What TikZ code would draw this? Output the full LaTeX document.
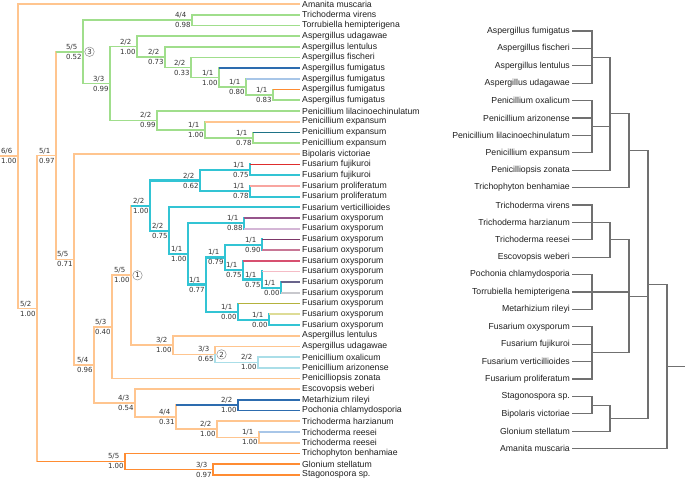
\documentclass[tikz,border=0pt]{standalone}
\usepackage{fontspec}
\setmainfont{Liberation Sans}
\newfontfamily\supportfont{DejaVu Sans}

\begin{document}
\begin{tikzpicture}[x=1pt,y=-1pt,
  taxon/.style={inner sep=2pt,text=black!88,font=\fontsize{8.7}{10}\selectfont},
  support/.style={anchor=east,align=left,inner sep=1.2pt,text=black!80,
    font=\supportfont\fontsize{7}{10}\selectfont},
  cladetag/.style={circle,draw=black!45,line width=0.5pt,inner sep=0pt,
    minimum size=9.5pt,text=black!80,font=\supportfont\fontsize{7}{8}\selectfont},
  br/.style={line width=1.7pt},
  brpeach/.style={br,draw=treepeach},
  brorange/.style={br,draw=treeorange},
  brgreen/.style={br,draw=treegreen},
  brcyan/.style={line width=2.1pt,draw=treecyan},
  brnavy/.style={br,draw=treenavy},
  brsky/.style={br,draw=treesky},
  brice/.style={br,draw=treeice},
  brteal/.style={br,draw=treeteal},
  cladogram/.style={line width=1.15pt,draw=treegray}]
\definecolor{treepeach}{RGB}{255,197,143}
\definecolor{treeorange}{RGB}{255,140,50}
\definecolor{treegreen}{RGB}{160,222,140}
\definecolor{treecyan}{RGB}{50,196,212}
\definecolor{treenavy}{RGB}{45,108,175}
\definecolor{treesky}{RGB}{168,198,232}
\definecolor{treeice}{RGB}{170,222,232}
\definecolor{treeteal}{RGB}{30,115,135}
\definecolor{fusred}{RGB}{222,45,45}
\definecolor{fussalmon}{RGB}{248,165,160}
\definecolor{oxyA}{RGB}{150,85,140}
\definecolor{oxyB}{RGB}{212,182,214}
\definecolor{oxyC}{RGB}{125,55,105}
\definecolor{oxyD}{RGB}{200,120,150}
\definecolor{oxyE}{RGB}{215,80,112}
\definecolor{oxyF}{RGB}{245,188,198}
\definecolor{oxyG}{RGB}{105,100,140}
\definecolor{oxyH}{RGB}{200,200,205}
\definecolor{oxyI}{RGB}{180,178,60}
\definecolor{oxyJ}{RGB}{222,220,150}
\definecolor{treegray}{RGB}{112,112,112}

\newcommand{\treeedge}[4]{
  \draw[#1,line cap=rect] (#3) -- (#3 |- #4);
  \draw[#2] (#3 |- #4) -- (#4);
}
\newcommand{\nodesupport}[3]{
  \node[support] (s#1) at (#1) {#2\\#3};
}

\useasboundingbox (0,0) rectangle (685,481);

% left: gene tree with support values
\begin{scope}[y=-10.7pt,yshift=-4pt]
  \foreach \taxon [count=\i from 0] in {Amanita muscaria,Trichoderma virens,
      Torrubiella hemipterigena,Aspergillus udagawae,Aspergillus lentulus,
      Aspergillus fischeri,Aspergillus fumigatus,Aspergillus fumigatus,
      Aspergillus fumigatus,Aspergillus fumigatus,Penicillium lilacinoechinulatum,
      Penicillium expansum,Penicillium expansum,Penicillium expansum,
      Bipolaris victoriae,Fusarium fujikuroi,Fusarium fujikuroi,
      Fusarium proliferatum,Fusarium proliferatum,Fusarium verticillioides,
      Fusarium oxysporum,Fusarium oxysporum,Fusarium oxysporum,Fusarium oxysporum,
      Fusarium oxysporum,Fusarium oxysporum,Fusarium oxysporum,Fusarium oxysporum,
      Fusarium oxysporum,Fusarium oxysporum,Fusarium oxysporum,
      Aspergillus lentulus,Aspergillus udagawae,Penicillium oxalicum,
      Penicillium arizonense,Penicilliopsis zonata,Escovopsis weberi,
      Metarhizium rileyi,Pochonia chlamydosporia,Trichoderma harzianum,
      Trichoderma reesei,Trichoderma reesei,Trichophyton benhamiae,
      Glonium stellatum,Stagonospora sp.}
    \node[taxon,anchor=west] (l\i) at (300,\i) {\taxon};

  \coordinate (rootin) at (0,14.2297);
  \coordinate (root) at (18,14.2297);
  \coordinate (c52) at (37,28.4594);
  \coordinate (c51) at (56,14.1688);
  \coordinate (c3) at (83,4.4648);
  \coordinate (tri) at (192,1.5);
  \coordinate (eur) at (110,7.4297);
  \coordinate (asp) at (137,3.9844);
  \coordinate (a73) at (165,4.9688);
  \coordinate (a33) at (191,5.9375);
  \coordinate (a100) at (219,6.875);
  \coordinate (a80) at (246,7.75);
  \coordinate (a83) at (273,8.5);
  \coordinate (pen) at (157,10.875);
  \coordinate (pe100) at (205,11.75);
  \coordinate (pe78) at (253,12.5);
  \coordinate (c571) at (74,23.8728);
  \coordinate (c54) at (94,33.7456);
  \coordinate (c53) at (112,30.1787);
  \coordinate (c1) at (131,25.3574);
  \coordinate (fus) at (150,18.8398);
  \coordinate (ffp) at (200,16.5);
  \coordinate (fj) at (250,15.5);
  \coordinate (fp) at (250,17.5);
  \coordinate (fv) at (169,21.1797);
  \coordinate (o100) at (188,23.3594);
  \coordinate (o88) at (244,20.5);
  \coordinate (o77) at (206,26.2188);
  \coordinate (o79) at (225,23.6875);
  \coordinate (o90) at (262,22.5);
  \coordinate (o75a) at (243,24.875);
  \coordinate (o75b) at (262,25.75);
  \coordinate (o00a) at (281,26.5);
  \coordinate (o00b) at (238,28.75);
  \coordinate (o00c) at (269,29.5);
  \coordinate (c32) at (173,31.875);
  \coordinate (c2) at (215,32.75);
  \coordinate (pao) at (258,33.5);
  \coordinate (c43) at (135,37.3125);
  \coordinate (c44) at (176,38.625);
  \coordinate (mp) at (238,37.5);
  \coordinate (th) at (217,39.75);
  \coordinate (tr) at (259,40.5);
  \coordinate (c55) at (125,42.75);
  \coordinate (gs) at (213,43.5);

  \draw[brpeach] (rootin) -- (root);
  \foreach \p/\c in {root/l0,root/c52,c52/c51,c51/c571,c571/l14,c571/c54,
      c54/c53,c54/c43,c53/c1,c53/l35,c1/c32,c32/l31,c32/c2,c2/l32,
      c43/l36,c43/c44,c44/th,th/l39,th/tr,tr/l41}
    \treeedge{brpeach}{brpeach}{\p}{\c};
  \foreach \p/\c in {c3/tri,c3/eur,tri/l1,tri/l2,eur/asp,eur/pen,asp/l3,asp/a73,
      a73/l4,a73/a33,a33/l5,a33/a100,a100/a80,a80/a83,a83/l9,
      pen/l10,pen/pe100,pe100/pe78,pe78/l13}
    \treeedge{brgreen}{brgreen}{\p}{\c};
  \foreach \p/\c in {fus/ffp,fus/fv,ffp/fj,ffp/fp,fj/l16,fp/l18,fv/l19,fv/o100,
      o100/o88,o100/o77,o77/o79,o77/o00b,o79/o90,o79/o75a,o75a/o75b,
      o75b/o00a,o00b/o00c,o00c/l30}
    \treeedge{brcyan}{brcyan}{\p}{\c};
  \foreach \p/\c in {c2/pao,pao/l33,pao/l34}
    \treeedge{brice}{brice}{\p}{\c};
  \foreach \p/\c in {mp/l37,mp/l38}
    \treeedge{brnavy}{brnavy}{\p}{\c};
  \foreach \p/\c in {c55/l42,c55/gs,gs/l43,gs/l44}
    \treeedge{brorange}{brorange}{\p}{\c};
  % branches that change colour at the corner
  \foreach \p/\c/\v/\h in {c51/c3/brpeach/brgreen,c1/fus/brpeach/brcyan,
      c44/mp/brpeach/brnavy,tr/l40/brpeach/brsky,c52/c55/brpeach/brorange,
      a100/l6/brgreen/brnavy,a80/l7/brgreen/brsky,a83/l8/brgreen/brorange,
      pe100/l11/brgreen/brpeach,pe78/l12/brgreen/brteal}
    \treeedge{\v}{\h}{\p}{\c};
  % coloured Fusarium tips
  \foreach \p/\c/\col in {fj/l15/fusred,fp/l17/fussalmon,o88/l20/oxyA,
      o88/l21/oxyB,o90/l22/oxyC,o90/l23/oxyD,o75a/l24/oxyE,o75b/l25/oxyF,
      o00a/l26/oxyG,o00a/l27/oxyH,o00b/l28/oxyI,o00c/l29/oxyJ}
    \treeedge{brcyan}{br,draw=\col}{\p}{\c};

  \foreach \n/\a/\b in {root/{6/6}/1.00,c52/{5/2}/1.00,c51/{5/1}/0.97,
      c3/{5/5}/0.52,tri/{4/4}/0.98,eur/{3/3}/0.99,asp/{2/2}/1.00,
      a73/{2/2}/0.73,a33/{2/2}/0.33,a100/{1/1}/1.00,a80/{1/1}/0.80,
      a83/{1/1}/0.83,pen/{2/2}/0.99,pe100/{1/1}/1.00,pe78/{1/1}/0.78,
      c571/{5/5}/0.71,fus/{2/2}/1.00,ffp/{2/2}/0.62,fj/{1/1}/0.75,
      fp/{1/1}/0.78,fv/{2/2}/0.75,o100/{1/1}/1.00,o88/{1/1}/0.88,
      o77/{1/1}/0.77,o79/{1/1}/0.79,o90/{1/1}/0.90,o75a/{1/1}/0.75,
      o75b/{1/1}/0.75,o00a/{1/1}/0.00,o00b/{1/1}/0.00,o00c/{1/1}/0.00,
      c1/{5/5}/1.00,c53/{5/3}/0.40,c54/{5/4}/0.96,c32/{3/2}/1.00,
      c2/{3/3}/0.65,pao/{2/2}/1.00,c43/{4/3}/0.54,c44/{4/4}/0.31,
      mp/{2/2}/1.00,th/{2/2}/1.00,tr/{1/1}/1.00,c55/{5/5}/1.00,gs/{3/3}/0.97}
    \nodesupport{\n}{\a}{\b};

  \node[cladetag] (tag1) at ([xshift=6.5pt]c1) {1};
  \node[cladetag] (tag2) at ([xshift=6.5pt]c2) {2};
  \node[cladetag] (tag3) at ([xshift=6.5pt]c3) {3};
\end{scope}

% right: species tree
\begin{scope}[y=-17.4pt,yshift=-31pt]
  \foreach \taxon [count=\i from 0] in {Aspergillus fumigatus,Aspergillus fischeri,
      Aspergillus lentulus,Aspergillus udagawae,Penicillium oxalicum,
      Penicillium arizonense,Penicillium lilacinoechinulatum,Penicillium expansum,
      Penicilliopsis zonata,Trichophyton benhamiae,Trichoderma virens,
      Trichoderma harzianum,Trichoderma reesei,Escovopsis weberi,
      Pochonia chlamydosporia,Torrubiella hemipterigena,Metarhizium rileyi,
      Fusarium oxysporum,Fusarium fujikuroi,Fusarium verticillioides,
      Fusarium proliferatum,Stagonospora sp.,Bipolaris victoriae,
      Glonium stellatum,Amanita muscaria}
    \node[taxon,anchor=east] (r\i) at (572,\i) {\taxon};

  \coordinate (ra) at (592,1.5);
  \coordinate (rb) at (592,5.5);
  \coordinate (rc) at (610,4.75);
  \coordinate (rd) at (629,6.875);
  \coordinate (rt1) at (592,11);
  \coordinate (rt2) at (610,12);
  \coordinate (rp) at (592,15);
  \coordinate (rf) at (592,18.5);
  \coordinate (rh) at (629,15.25);
  \coordinate (rs) at (592,21.5);
  \coordinate (rg) at (610,22.25);
  \coordinate (re) at (648,14.5625);
  \coordinate (rr) at (667,19.2813);
  \coordinate (rout) at (685,19.2813);

  \foreach \p/\c in {ra/r0,ra/r1,ra/r2,ra/r3,rb/r4,rb/r5,rb/r6,rb/r7,
      rc/ra,rc/rb,rc/r8,rd/rc,rd/r9,rt1/r10,rt1/r11,rt1/r12,rt2/rt1,rt2/r13,
      rp/r14,rp/r15,rp/r16,rf/r17,rf/r18,rf/r19,rf/r20,rh/rt2,rh/rp,rh/rf,
      rs/r21,rs/r22,rg/rs,rg/r23,re/rd,re/rh,re/rg,rr/re,rr/r24}
    \draw[cladogram] (\p) |- (\c);
  \draw[cladogram] (rr) -- (rout);
\end{scope}
\end{tikzpicture}
\end{document}
